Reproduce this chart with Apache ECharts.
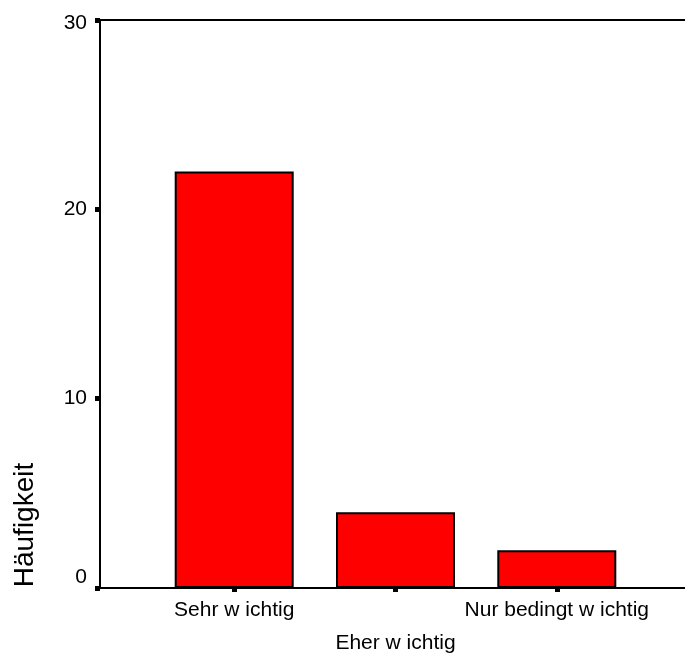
<!DOCTYPE html>
<html>
<head>
<meta charset="utf-8">
<script src="https://cdn.jsdelivr.net/npm/echarts@6/dist/echarts.min.js"></script>
<style>
html,body{margin:0;padding:0;background:#fff;overflow:hidden;}
#chart{width:685px;height:657px;}
</style>
</head>
<body>
<div id="chart"></div>
<script>
const categories = ['Sehr w ichtig', 'Eher w ichtig', 'Nur bedingt w ichtig'];
const counts = [22, 4, 2];
const yTicks = [0, 10, 20, 30];
const yTitle = 'Häufigkeit';

const FONT = '"Liberation Sans", Arial, sans-serif';
const positions = categories.map((c, i) => i);
const barData = counts.map((v, i) => [positions[i], v]);

const chart = echarts.init(document.getElementById('chart'));
chart.setOption({
  animation: false,
  backgroundColor: '#fff',
  grid: {
    left: 100, top: 20, bottom: 69, right: -6,
    outerBoundsMode: 'none',
    containLabel: false,
    show: true, borderColor: '#000', borderWidth: 2, backgroundColor: 'transparent'
  },
  xAxis: {
    type: 'value',
    min: -0.832, max: 2.832,
    splitLine: { show: false },
    axisLine: { show: true, onZero: false, lineStyle: { color: '#000', width: 2 } },
    axisTick: { show: true, customValues: positions, length: 4, lineStyle: { color: '#000', width: 5 } },
    axisLabel: {
      customValues: positions,
      margin: 6,
      fontFamily: FONT, fontSize: 21, color: '#000', lineHeight: 33,
      formatter: v => {
        const i = Math.round(v);
        return i % 2 === 1 ? '\n' + categories[i] : categories[i];
      }
    }
  },
  yAxis: {
    type: 'value',
    min: 0, max: 30, interval: 10,
    splitLine: { show: false },
    axisLine: { show: true, onZero: false, lineStyle: { color: '#000', width: 2 } },
    axisTick: { show: true, length: 5, lineStyle: { color: '#000', width: 5 } },
    axisLabel: {
      margin: 13,
      fontFamily: FONT, fontSize: 21, color: '#000',
      formatter: v => {
        if (v === yTicks[0]) return '{lo|' + v + '}';
        if (v === yTicks[yTicks.length - 1]) return '{hi|' + v + '}';
        return String(v);
      },
      rich: {
        lo: { fontFamily: FONT, fontSize: 21, color: '#000', padding: [0, 0, 22, 0] },
        hi: { fontFamily: FONT, fontSize: 21, color: '#000', padding: [6, 0, 0, 0] }
      }
    }
  },
  graphic: [{
    type: 'text',
    x: 25, y: 525,
    rotation: Math.PI / 2,
    style: {
      text: yTitle, fontFamily: FONT, fontSize: 28, fill: '#000',
      align: 'center', verticalAlign: 'middle'
    }
  }],
  series: [{
    type: 'bar',
    data: barData,
    barWidth: 119,
    itemStyle: { color: '#ff0000', borderColor: '#000', borderWidth: 2 }
  }]
});
</script>
</body>
</html>
